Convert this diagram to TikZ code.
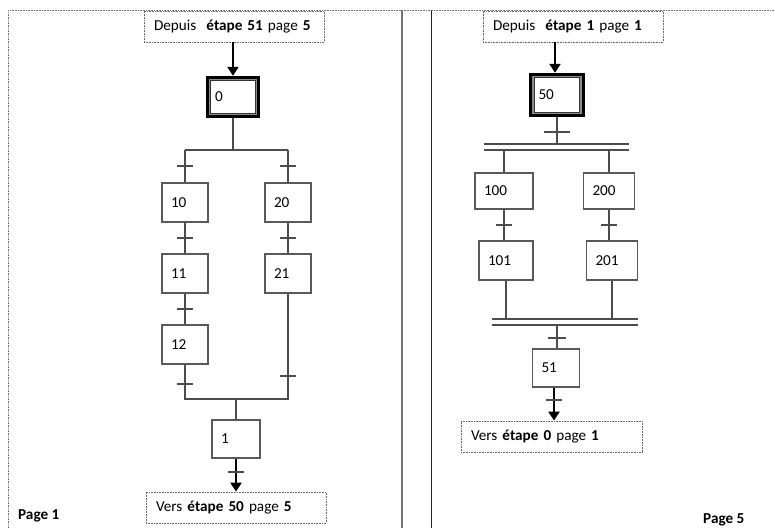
\documentclass[tikz,border=0pt]{standalone}
\usepackage{fontspec}
\setmainfont{Carlito}
\usetikzlibrary{arrows.meta}

\begin{document}
\begin{tikzpicture}[x=1pt,y=-1pt,
  font=\fontsize{15.2}{17}\selectfont,
  link/.style={draw=black!70, line width=1.2pt},
  frameline/.style={draw=black!55, line width=0.8pt, dash pattern=on 0.8pt off 0.8pt},
  stepbox/.style={draw=black!65, line width=1.2pt, align=left, inner xsep=9pt, inner ysep=0pt},
  initbox/.style={align=left, inner xsep=9pt, inner ysep=0pt},
  pagebox/.style={draw=black!60, line width=0.8pt, dash pattern=on 0.8pt off 0.8pt,
                  align=left, inner xsep=10pt, inner ysep=0pt, minimum height=31pt},
  bigarrow/.style={draw=black, line width=2.6pt, -{Triangle[width=11pt,length=9pt]}},
  tick/.style={draw=black!70, line width=1.2pt},
  pagelabel/.style={font=\fontsize{15.2}{17}\selectfont\bfseries, inner sep=0pt}
]
\useasboundingbox (0,0) rectangle (775,528);

% page frames
\draw[frameline] (8,528) -- (8,10) -- (775,10);
\draw[draw=black!55, line width=1.2pt] (402,10) -- (402,528);
\draw[draw=black!85, line width=1pt] (431,10) -- (431,528);

% ---------------- page 1 ----------------
\node[pagebox, text width=160pt] (fromA) at (234,26.5) {Depuis~ \textbf{étape 51} page \textbf{5}};

\node[initbox, text width=36pt, minimum height=42pt] (s0) at (233,97) {0};
\draw[line width=3pt] ([shift={(1.5,1.5)}]s0.north west) rectangle ([shift={(-1.5,-1.5)}]s0.south east);
\draw[black!45, line width=1.4pt] ([shift={(3.6,3.6)}]s0.north west) rectangle ([shift={(-3.6,-3.6)}]s0.south east);
\draw[black!80, line width=0.9pt] ([shift={(4.8,4.8)}]s0.north west) rectangle ([shift={(-4.8,-4.8)}]s0.south east);

\draw[bigarrow] (fromA.south -| s0.north) -- (s0.north);

\node[stepbox, text width=28pt, minimum height=39pt] (s10) at (185,202.5) {10};
\node[stepbox, text width=28pt, minimum height=39pt] (s11) at (185,273.5) {11};
\node[stepbox, text width=28pt, minimum height=39pt] (s12) at (185,344.5) {12};
\node[stepbox, text width=28pt, minimum height=39pt] (s20) at (288,202.5) {20};
\node[stepbox, text width=28pt, minimum height=39pt] (s21) at (288,273.5) {21};
\node[stepbox, text width=30pt, minimum height=38pt] (s1) at (236,439) {1};

\node[pagebox, text width=160pt] (toA) at (236,507.5) {Vers \textbf{étape 50} page \textbf{5}};

% divergence (OR)
\coordinate (orA) at (233,150);
\draw[link] (s0.south) -- (orA);
\draw[link] (s10.north |- orA) -- (s20.north |- orA);
\draw[link] (s10.north |- orA) -- (s10.north);
\draw[link] (s20.north |- orA) -- (s20.north);
\draw[tick] ([xshift=-8]s10.north |- 0,166) -- ([xshift=8]s10.north |- 0,166);
\draw[tick] ([xshift=-8]s20.north |- 0,166) -- ([xshift=8]s20.north |- 0,166);

% left branch
\draw[link] (s10.south) -- (s11.north);
\draw[tick] ([xshift=-8]s10.south |- 0,238) -- ([xshift=8]s10.south |- 0,238);
\draw[link] (s11.south) -- (s12.north);
\draw[tick] ([xshift=-8]s11.south |- 0,309) -- ([xshift=8]s11.south |- 0,309);

% right branch
\draw[link] (s20.south) -- (s21.north);
\draw[tick] ([xshift=-8]s20.south |- 0,238) -- ([xshift=8]s20.south |- 0,238);

% convergence (OR)
\coordinate (cvA) at (236,399);
\draw[link] (s12.south) -- (s12.south |- cvA) -- (s21.south |- cvA) -- (s21.south);
\draw[tick] ([xshift=-8]s12.south |- 0,384) -- ([xshift=8]s12.south |- 0,384);
\draw[tick] ([xshift=-8]s21.south |- 0,376) -- ([xshift=8]s21.south |- 0,376);
\draw[link] (cvA) -- (s1.north);

\draw[bigarrow] (s1.south) -- (s1.south |- toA.north);
\draw[tick] ([xshift=-8]s1.south |- 0,472) -- ([xshift=8]s1.south |- 0,472);

\node[pagelabel, anchor=west] (pg1) at (18,516) {Page 1};

% ---------------- page 5 ----------------
\node[pagebox, text width=160pt] (fromB) at (573,26.5) {Depuis~ \textbf{étape 1} page \textbf{1}};

\node[initbox, text width=37pt, minimum height=44pt] (s50) at (557,95) {50};
\draw[line width=3pt] ([shift={(1.5,1.5)}]s50.north west) rectangle ([shift={(-1.5,-1.5)}]s50.south east);
\draw[black!45, line width=1.4pt] ([shift={(3.6,3.6)}]s50.north west) rectangle ([shift={(-3.6,-3.6)}]s50.south east);
\draw[black!80, line width=0.9pt] ([shift={(4.8,4.8)}]s50.north west) rectangle ([shift={(-4.8,-4.8)}]s50.south east);

\draw[bigarrow] ([xshift=-2]fromB.south -| s50.north) -- ([xshift=-2]s50.north);

\node[stepbox, text width=40pt, minimum height=36pt] (s100) at (504,191) {100};
\node[stepbox, text width=33pt, minimum height=36pt] (s200) at (609,191) {200};
\node[stepbox, text width=36pt, minimum height=39pt] (s101) at (506,260.5) {101};
\node[stepbox, text width=33pt, minimum height=39pt] (s201) at (612,260.5) {201};
\node[stepbox, text width=29pt, minimum height=38pt] (s51) at (556,368) {51};

\node[pagebox, text width=161pt] (toB) at (551.5,436.5) {Vers \textbf{étape 0} page \textbf{1}};

% divergence (AND)
\coordinate (andA) at (557,144);
\draw[link] (s50.south) -- (andA);
\draw[tick] ([xshift=-13]s50.south |- 0,132) -- ([xshift=13]s50.south |- 0,132);
\draw[link] (484,144) -- (629,144);
\draw[link] (484,150) -- (629,150);
\draw[link] (s100.north |- 0,150) -- (s100.north);
\draw[link] (s200.north |- 0,150) -- (s200.north);

\draw[link] (s100.south) -- (s100.south |- s101.north);
\draw[tick] ([xshift=-8]s100.south |- 0,225) -- ([xshift=8]s100.south |- 0,225);
\draw[link] (s200.south) -- (s200.south |- s201.north);
\draw[tick] ([xshift=-8]s200.south |- 0,225) -- ([xshift=8]s200.south |- 0,225);

% convergence (AND)
\draw[link] (s101.south) -- (s101.south |- 0,319);
\draw[link] (s201.south) -- (s201.south |- 0,319);
\draw[link] (492,319) -- (638,319);
\draw[link] (492,325) -- (638,325);
\coordinate (andB) at (557,325);
\draw[link] (andB) -- (andB |- s51.north);
\draw[tick] ([xshift=-9]andB |- 0,338) -- ([xshift=9]andB |- 0,338);

\draw[bigarrow] ([xshift=-2]s51.south) -- ([xshift=-2]s51.south |- toB.north);
\draw[tick] ([xshift=-10]s51.south |- 0,400) -- ([xshift=6]s51.south |- 0,400);

\node[pagelabel, anchor=west] (pg5) at (703,520) {Page 5};
\end{tikzpicture}
\end{document}
